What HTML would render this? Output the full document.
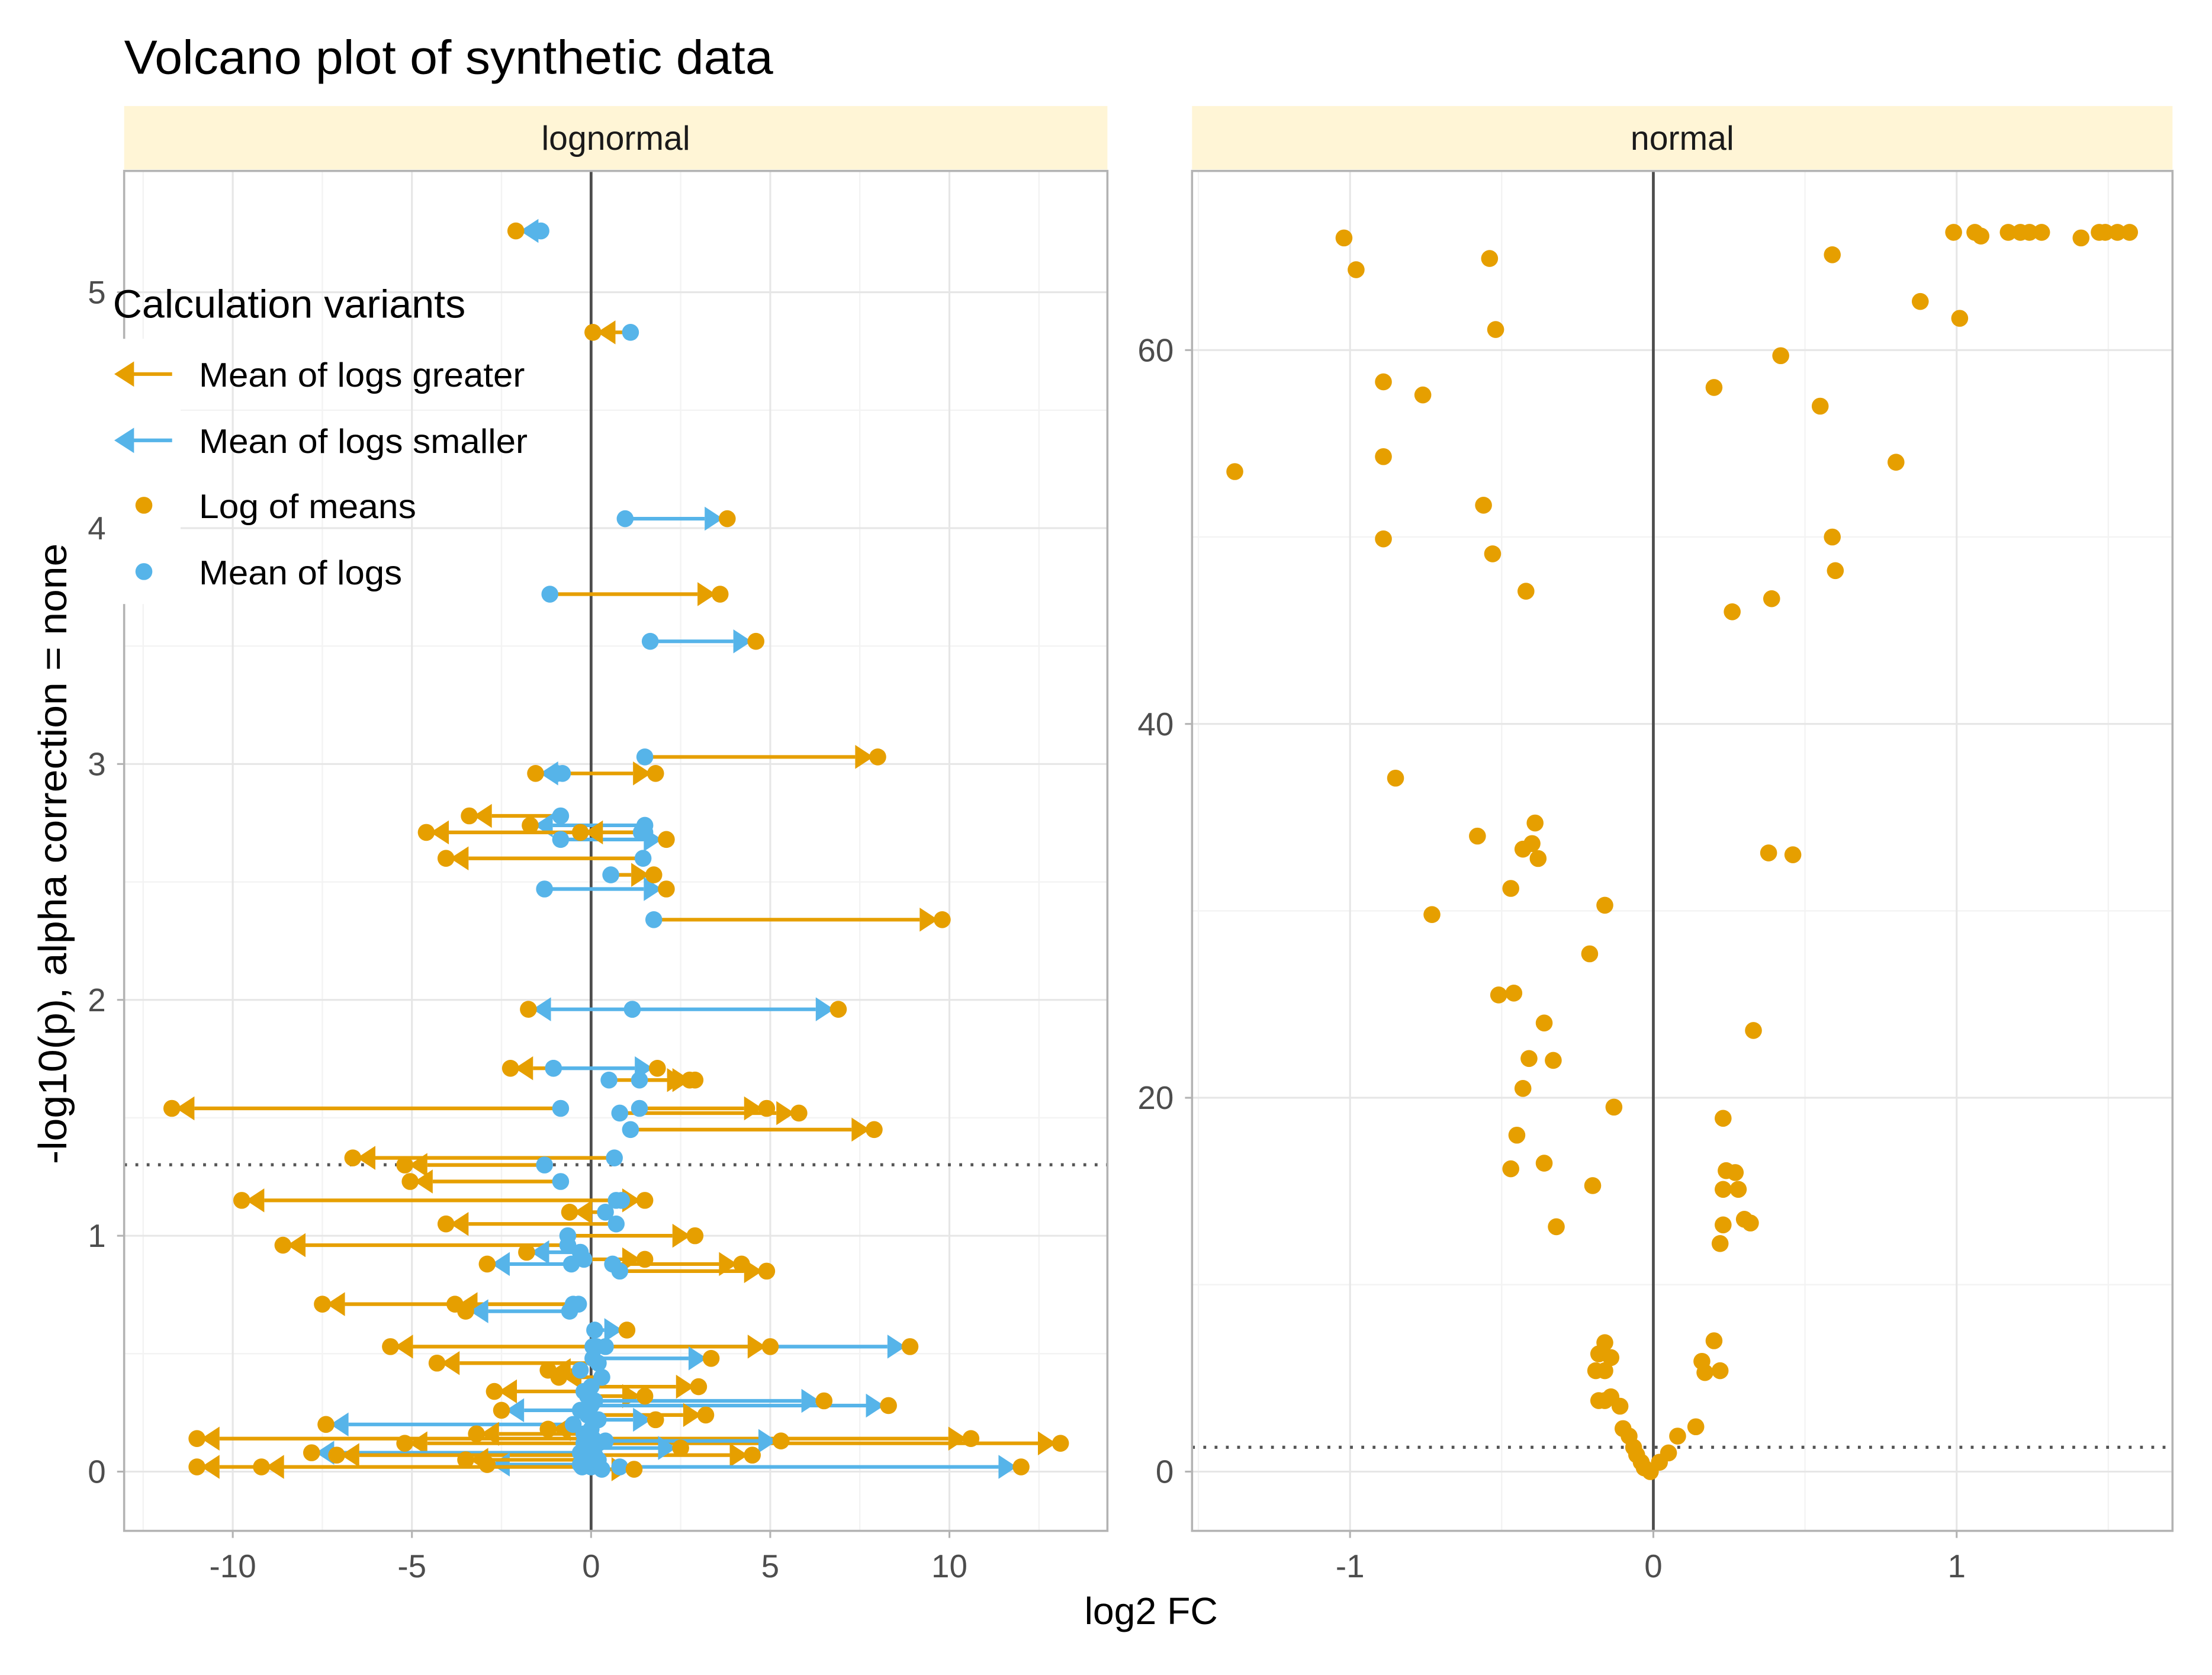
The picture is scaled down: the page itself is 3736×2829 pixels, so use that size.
<!DOCTYPE html>
<html><head><meta charset="utf-8">
<style>html,body{margin:0;padding:0;background:#fff}svg{display:block}text{font-family:"Liberation Sans",Arial,sans-serif}</style>
</head><body>
<svg id="chart" width="3736" height="2829" viewBox="0 0 1568 1187" xmlns="http://www.w3.org/2000/svg">
<rect x="0" y="0" width="1568" height="1187" fill="#fff"/>
<text x="88" y="52" font-size="34" fill="#000" textLength="460" lengthAdjust="spacingAndGlyphs">Volcano plot of synthetic data</text>
<g id="left"></g><g id="right"></g>
<text x="816" y="1151" font-size="27" text-anchor="middle" fill="#000">log2 FC</text>
<text transform="translate(47,605) rotate(-90)" font-size="28" text-anchor="middle" fill="#000" textLength="440" lengthAdjust="spacingAndGlyphs">-log10(p), alpha correction = none</text>
<g id="legend">
<rect x="80" y="240" width="48" height="188" fill="#fff"/>
<text x="80" y="225" font-size="28" fill="#000" textLength="250" lengthAdjust="spacingAndGlyphs">Calculation variants</text>
<g><line x1="122" y1="265" x2="92" y2="265" stroke="#E69F00" stroke-width="2.6"/><polygon points="81,265 95,256 95,274" fill="#E69F00"/><text x="141" y="274" font-size="24" textLength="231" lengthAdjust="spacingAndGlyphs">Mean of  logs  greater</text></g>
<g><line x1="122" y1="312" x2="92" y2="312" stroke="#56B4E9" stroke-width="2.6"/><polygon points="81,312 95,303 95,321" fill="#56B4E9"/><text x="141" y="321" font-size="24" textLength="233" lengthAdjust="spacingAndGlyphs">Mean of  logs  smaller</text></g>
<g><circle cx="102" cy="358" r="6" fill="#E69F00"/><text x="141" y="367" font-size="24" textLength="154" lengthAdjust="spacingAndGlyphs">Log of  means</text></g>
<g><circle cx="102" cy="405" r="6" fill="#56B4E9"/><text x="141" y="414" font-size="24" textLength="144" lengthAdjust="spacingAndGlyphs">Mean of  logs</text></g>
</g>
</svg>
<script>
// lognormal panel data: y = -log10(p), meanOfLogs = blue x, logOfMeans = orange x, arrowColor: 'o' greater, 'b' smaller
const lnY =      [5.26,4.83,4.04,3.72,3.52,3.03,2.96,2.96,2.78,2.74,2.71,2.68,2.71,2.60,2.53,2.47,2.34,1.96,1.96,1.71,1.71,1.66,1.66,1.54,1.54,1.52,1.45,1.33,1.30,1.23,1.15,1.15,1.05,1.00,0.96,0.93,0.88,0.88,0.85,0.71,0.71,0.68,0.53,0.53,0.53,0.48,0.46,0.43,0.36,0.34,0.32,0.30,0.28,0.26,0.24,0.20,0.16,0.14,0.14,0.12,0.13,0.12,0.08,0.07,0.07,0.03,0.02,0.02,0.02,0.01,0.05,0.10,0.18,0.22,0.40,0.60,0.90,1.10];
const lnBlue =   [-1.4,1.1,0.95,-1.15,1.65,1.5,-0.95,-0.8,-0.85,1.5,1.5,-0.85,1.4,1.45,0.55,-1.3,1.75,1.15,1.15,-1.05,-1.05,0.5,1.35,-0.85,1.35,0.8,1.1,0.65,-1.3,-0.85,0.7,0.85,0.7,-0.65,-0.65,-0.3,-0.55,0.6,0.8,-0.35,-0.5,-0.6,0.05,0.15,0.4,0.05,0.2,-0.3,0.0,-0.2,-0.1,0.1,0.0,-0.3,-0.1,-0.5,-0.2,-0.1,0.05,0.2,0.4,-0.2,-0.3,0.1,-0.1,-0.3,0.0,0.8,-0.25,0.3,0.2,-0.1,0.0,0.2,0.3,0.1,-0.2,0.4];
const lnOrange = [-2.1,0.05,3.8,3.6,4.6,8.0,1.8,-1.55,-3.4,-1.7,-4.6,2.1,-0.3,-4.05,1.75,2.1,9.8,-1.75,6.9,-2.25,1.85,2.9,2.75,-11.7,4.9,5.8,7.9,-6.65,-5.2,-5.05,-9.75,1.5,-4.05,2.9,-8.6,-1.8,-2.9,4.2,4.9,-7.5,-3.8,-3.5,-5.6,8.9,5.0,3.35,-4.3,-1.2,3.0,-2.7,1.5,6.5,8.3,-2.5,3.2,-7.4,-3.2,-11.0,10.6,13.1,5.3,-5.2,-7.8,4.5,-7.1,-2.9,-11.0,12.0,-9.2,1.2,-3.5,2.5,-1.2,1.8,-0.9,1.0,1.5,-0.6];
const lnArrow =  ['b','o','b','o','b','o','o','b','o','b','o','b','o','o','o','b','o','b','b','o','b','o','o','o','o','o','o','o','o','o','o','o','o','o','o','b','b','o','o','o','o','b','o','b','o','b','o','o','o','o','o','b','b','b','o','b','o','o','o','o','b','o','b','o','o','b','o','b','o','o','o','b','o','b','o','b','o','o'];
// normal panel data
const nX = [-1.02,-0.98,-0.54,-0.52,-0.89,-0.76,-1.38,-0.89,-0.56,-0.89,-0.53,-0.42,-0.85,-0.39,-0.58,-0.40,-0.43,-0.38,-0.47,-0.16,-0.73,-0.21,-0.51,-0.46,-0.36,-0.41,-0.33,-0.43,-0.13,-0.45,-0.36,-0.47,-0.20,-0.32,-0.16,-0.18,-0.14,-0.19,-0.16,-0.18,-0.14,-0.11,-0.16,-0.10,-0.08,-0.065,-0.055,-0.04,-0.03,-0.01,0.02,0.05,0.08,0.14,
0.99,1.06,1.08,1.17,1.21,1.24,1.28,1.41,1.47,1.49,1.53,1.57,0.59,0.88,1.01,0.42,0.20,0.55,0.80,0.59,0.60,0.39,0.26,0.38,0.46,0.33,0.23,0.24,0.27,0.23,0.28,0.30,0.32,0.23,0.22,0.20,0.16,0.17,0.22];
const nY = [66.0,64.3,64.9,61.1,58.3,57.6,53.5,54.3,51.7,49.9,49.1,47.1,37.1,34.7,34.0,33.6,33.3,32.8,31.2,30.3,29.8,27.7,25.5,25.6,24.0,22.1,22.0,20.5,19.5,18.0,16.5,16.2,15.3,13.1,6.9,6.3,6.1,5.4,5.4,3.8,4.0,3.5,3.8,2.3,1.9,1.3,0.9,0.5,0.2,0.0,0.5,1.0,1.9,2.4,
66.3,66.3,66.1,66.3,66.3,66.3,66.3,66.0,66.3,66.3,66.3,66.3,65.1,62.6,61.7,59.7,58.0,57.0,54.0,50.0,48.2,46.7,46.0,33.1,33.0,23.6,18.9,16.1,16.0,15.1,15.1,13.5,13.3,13.2,12.2,7.0,5.9,5.3,5.4];
const lnXTicks = [-10,-5,0,5,10];
const lnYTicks = [0,1,2,3,4,5];
const nXTicks = [-1,0,1];
const nYTicks = [0,20,40,60];

const NS='http://www.w3.org/2000/svg';
const OR='#E69F00', BL='#56B4E9';
function mk(parent,tag,attrs){const e=document.createElementNS(NS,tag);for(const k in attrs)e.setAttribute(k,attrs[k]);parent.appendChild(e);return e;}
const T=1043;
function panel(g,x0,x1,xs,ys,xT,yT,xMinor,yMinor,label,yLabelX){
  const top=121,bot=1085;
  const strip=mk(g,'rect',{x:x0,y:75,width:x1-x0,height:45,fill:'#FFF5D6'});
  
  
  const st=mk(g,'text',{x:(x0+x1)/2,y:106,'font-size':24,'text-anchor':'middle',fill:'#1a1a1a'});st.textContent=label;
  
  
  xMinor.forEach(v=>{const X=xs(v);if(X>x0&&X<x1)mk(g,'line',{x1:X,x2:X,y1:top,y2:bot,stroke:'#F3F3F3','stroke-width':1});});
  yMinor.forEach(v=>{const Y=ys(v);if(Y>top&&Y<bot)mk(g,'line',{x1:x0,x2:x1,y1:Y,y2:Y,stroke:'#F3F3F3','stroke-width':1});});
  xT.forEach(v=>{const X=xs(v);mk(g,'line',{x1:X,x2:X,y1:top,y2:bot,stroke:'#E6E6E6','stroke-width':1.3});
    mk(g,'line',{x1:X,x2:X,y1:bot,y2:bot+5,stroke:'#b3b3b3','stroke-width':1.3});
    const t=mk(g,'text',{x:X,y:1118,'font-size':23,'text-anchor':'middle',fill:'#4d4d4d'});t.textContent=v;
    
    });
  yT.forEach(v=>{const Y=ys(v);mk(g,'line',{x1:x0,x2:x1,y1:Y,y2:Y,stroke:'#E6E6E6','stroke-width':1.3});
    mk(g,'line',{x1:x0-5,x2:x0,y1:Y,y2:Y,stroke:'#b3b3b3','stroke-width':1.3});
    const t=mk(g,'text',{x:yLabelX,y:Y+8,'font-size':23,'text-anchor':'end',fill:'#4d4d4d'});t.textContent=v;
    
    });
  mk(g,'line',{x1:xs(0),x2:xs(0),y1:top,y2:bot,stroke:'#4d4d4d','stroke-width':2});
  const th=mk(g,'line',{x1:x0,x2:x1,y1:ys(1.30103),y2:ys(1.30103),stroke:'#555','stroke-width':2.2,'stroke-dasharray':'2 6'});
  
  
  const b=mk(g,'rect',{x:x0,y:top,width:x1-x0,height:bot-top,fill:'none',stroke:'#b3b3b3','stroke-width':1.5});
  
  
}
// left panel
const L=document.getElementById('left');
const lxs=v=>419+25.4*v, lys=v=>T-167.2*v;
panel(L,88,785,lxs,lys,lnXTicks,lnYTicks,[-12.5,-7.5,-2.5,2.5,7.5,12.5],[0.5,1.5,2.5,3.5,4.5],'lognormal',75);
const marks=mk(L,'g',{});
for(let i=0;i<lnY.length;i++){
  const Y=lys(lnY[i]),xb=lxs(lnBlue[i]),xo=lxs(lnOrange[i]);const c=lnArrow[i]==='o'?OR:BL;
  const dir=xo>xb?1:-1;const tip=xo-dir*3;const base=tip-dir*13;
  const ln=mk(marks,'line',{x1:xb,x2:base,y1:Y,y2:Y,stroke:c,'stroke-width':2.6});
  
  
  if(Math.abs(xo-xb)>14){mk(marks,'polygon',{points:`${tip},${Y} ${base},${Y-8.5} ${base},${Y+8.5}`,fill:c});}
}
for(let i=0;i<lnY.length;i++){
  const Y=lys(lnY[i]);
  const p=mk(marks,'circle',{cx:lxs(lnOrange[i]),cy:Y,r:6,fill:OR});
  
  
  const q=mk(marks,'circle',{cx:lxs(lnBlue[i]),cy:Y,r:6,fill:BL});
  
  
}
// right panel
const R=document.getElementById('right');
const rxs=v=>1172+215*v, rys=v=>T-13.25*v;
panel(R,845,1540,rxs,rys,nXTicks,nYTicks,[-1.5,-0.5,0.5,1.5],[10,30,50],'normal',832);
for(let i=0;i<nX.length;i++){
  const p=mk(R,'circle',{cx:rxs(nX[i]),cy:rys(nY[i]),r:6,fill:OR});
  
  
}
</script>
</body></html>
